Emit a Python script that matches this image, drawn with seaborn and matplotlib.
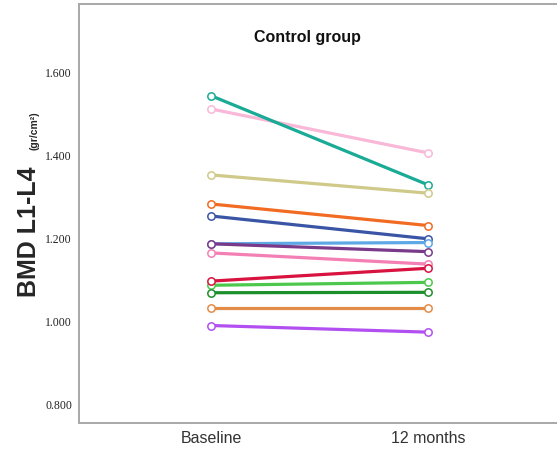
import matplotlib
matplotlib.use("Agg")
import matplotlib.pyplot as plt
import seaborn as sns
import pandas as pd

# Values (BMD L1-L4, gr/cm2)
timepoints = ["Baseline", "12 months"]
subjects = ["s01", "s02", "s03", "s04", "s05", "s06", "s07",
            "s08", "s09", "s10", "s11", "s12", "s13"]
baseline = [1.512, 1.544, 1.353, 1.283, 1.254, 1.187, 1.187,
            1.165, 1.087, 1.097, 1.069, 1.032, 0.990]
month12 = [1.406, 1.329, 1.309, 1.231, 1.199, 1.190, 1.168,
           1.138, 1.094, 1.128, 1.070, 1.032, 0.974]
line_colors = ["#f9b8d8", "#19ab95", "#cfc98a", "#f26b22", "#3b55a6", "#5ea8e6", "#7a3a8a",
               "#f47fb4", "#4cc94c", "#d8133f", "#1b8f2a", "#e38c47", "#b24ff0"]
yticks = [0.8, 1.0, 1.2, 1.4, 1.6]

rows = []
for s, b, m in zip(subjects, baseline, month12):
    rows.append({"subject": s, "time": timepoints[0], "bmd": b})
    rows.append({"subject": s, "time": timepoints[1], "bmd": m})
df = pd.DataFrame(rows)

sns.set_style("white")
plt.rcParams["font.family"] = ["Liberation Sans", "DejaVu Sans"]

fig = plt.figure(figsize=(5.57, 4.5), dpi=100)
ax = fig.add_axes([79 / 557, 27 / 450, 478 / 557, 419 / 450])

sns.lineplot(data=df, x="time", y="bmd", hue="subject", hue_order=subjects,
             palette=line_colors, linewidth=2.3, legend=False, ax=ax)

# open circle markers at each point, same colour as the line
for line in ax.lines:
    line.set_marker("o")
    line.set_markersize(5.3)
    line.set_markerfacecolor("white")
    line.set_markeredgecolor(line.get_color())
    line.set_markeredgewidth(1.1)

ax.set_xlim(-0.608, 1.594)
ax.set_ylim(0.755, 1.765)
ax.set_yticks(yticks)
ax.set_yticklabels([f"{v:.3f}" for v in yticks], fontfamily="Liberation Serif",
                   fontsize=8.5, color="#222222")
ax.set_xticks([0, 1])
ax.set_xticklabels(timepoints, fontsize=11.5, color="#333333")
ax.tick_params(axis="both", length=0)
ax.tick_params(axis="y", pad=5)
ax.tick_params(axis="x", pad=6)
ax.set_xlabel("")
ax.set_ylabel("")

for side in ["left", "bottom", "top"]:
    ax.spines[side].set_color("#a8a8a8")
    ax.spines[side].set_linewidth(1.4)
ax.spines["right"].set_visible(False)

ax.text(0.477, 0.919, "Control group", transform=ax.transAxes, ha="center",
        va="center", fontsize=11.5, fontweight="bold", color="#111111")

fig.text(28.5 / 557, 1 - 231.5 / 450, "BMD L1-L4", rotation=90, ha="center",
         va="center", fontsize=18, fontweight="bold")
fig.text(35 / 557, 1 - 131 / 450, "(gr/cm²)", rotation=90, ha="center",
         va="center", fontsize=7.5, fontweight="bold")

fig.savefig("out.png", dpi=100)
